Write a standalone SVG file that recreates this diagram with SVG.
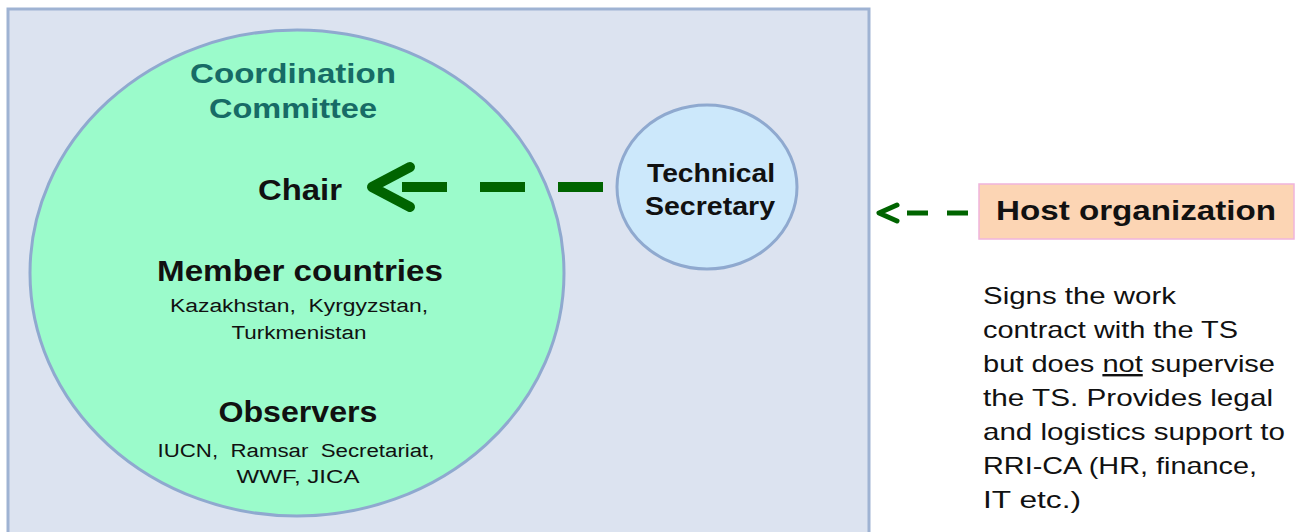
<svg xmlns="http://www.w3.org/2000/svg" width="1304" height="532" viewBox="0 0 1304 532">
<style>
text{font-family:"Liberation Sans",Arial,sans-serif;text-anchor:middle;white-space:pre}
.h{font-weight:bold;font-size:29px;fill:#111}
.s{font-size:18px;fill:#111}
.p{font-size:24px;fill:#111;text-anchor:start}
.conn{fill:none;stroke:#006400;stroke-linecap:butt}
.head{fill:none;stroke:#006400;stroke-linecap:round;stroke-linejoin:round}
</style>
<rect width="1304" height="532" fill="#ffffff"/>
<g id="frame">
<rect x="8" y="9" width="861" height="540" fill="#dce3f0" stroke="#9fb3d3" stroke-width="3"/>
</g>
<g id="coordination-committee">
<ellipse cx="297" cy="273" rx="267" ry="243" fill="#9bfbcb" stroke="#8fa9cf" stroke-width="3"/>
<text x="293" y="83" class="h" style="fill:#176b66;font-size:28px" textLength="206" lengthAdjust="spacingAndGlyphs">Coordination</text>
<text x="293" y="118" class="h" style="fill:#176b66;font-size:28px" textLength="168" lengthAdjust="spacingAndGlyphs">Committee</text>
<text x="300" y="200" class="h" textLength="84" lengthAdjust="spacingAndGlyphs">Chair</text>
<text x="300" y="281" class="h" textLength="286" lengthAdjust="spacingAndGlyphs">Member countries</text>
<text x="299" y="312" class="s" xml:space="preserve" textLength="258" lengthAdjust="spacingAndGlyphs">Kazakhstan,  Kyrgyzstan,</text>
<text x="299" y="339" class="s" textLength="135" lengthAdjust="spacingAndGlyphs">Turkmenistan</text>
<text x="298" y="422" class="h" textLength="159" lengthAdjust="spacingAndGlyphs">Observers</text>
<text x="296" y="457" class="s" xml:space="preserve" textLength="277" lengthAdjust="spacingAndGlyphs">IUCN,  Ramsar  Secretariat,</text>
<text x="298" y="483" class="s" textLength="123" lengthAdjust="spacingAndGlyphs">WWF, JICA</text>
</g>
<g id="technical-secretary">
<ellipse cx="707" cy="187" rx="90" ry="82" fill="#cce8fb" stroke="#8fa9cf" stroke-width="3"/>
<text x="711" y="182" style="font-weight:bold;font-size:26px;fill:#111" textLength="128" lengthAdjust="spacingAndGlyphs">Technical</text>
<text x="710" y="215" style="font-weight:bold;font-size:26px;fill:#111" textLength="130" lengthAdjust="spacingAndGlyphs">Secretary</text>
</g>
<g id="host-organization">
<rect x="979" y="184" width="315" height="55" fill="#fcd5b4" stroke="#f0b4dc" stroke-width="1.5"/>
<text x="1136" y="220" style="font-weight:bold;font-size:27px;fill:#111" textLength="280" lengthAdjust="spacingAndGlyphs">Host organization</text>
<text x="983" y="304" class="p" textLength="193" lengthAdjust="spacingAndGlyphs">Signs the work</text>
<text x="983" y="338" class="p" textLength="255" lengthAdjust="spacingAndGlyphs">contract with the TS</text>
<text x="983" y="372" class="p" textLength="292" lengthAdjust="spacingAndGlyphs">but does <tspan text-decoration="underline">not</tspan> supervise</text>
<text x="983" y="406" class="p" textLength="290" lengthAdjust="spacingAndGlyphs">the TS. Provides legal</text>
<text x="983" y="440" class="p" textLength="302" lengthAdjust="spacingAndGlyphs">and logistics support to</text>
<text x="983" y="474" class="p" textLength="274" lengthAdjust="spacingAndGlyphs">RRI-CA (HR, finance,</text>
<text x="983" y="508" class="p" textLength="98" lengthAdjust="spacingAndGlyphs">IT etc.)</text>
</g>
<g id="connectors">
<path class="conn" d="M603 187 L370 187" stroke-width="10" stroke-dasharray="45 33"/>
<path class="head" d="M410 167 L372 187 L410 207" stroke-width="10"/>
<path class="conn" d="M968 213 L907 213" stroke-width="5" stroke-dasharray="21 19"/>
<path class="head" d="M897 205 L879 213 L897 221" stroke-width="5"/>
</g>
</svg>
